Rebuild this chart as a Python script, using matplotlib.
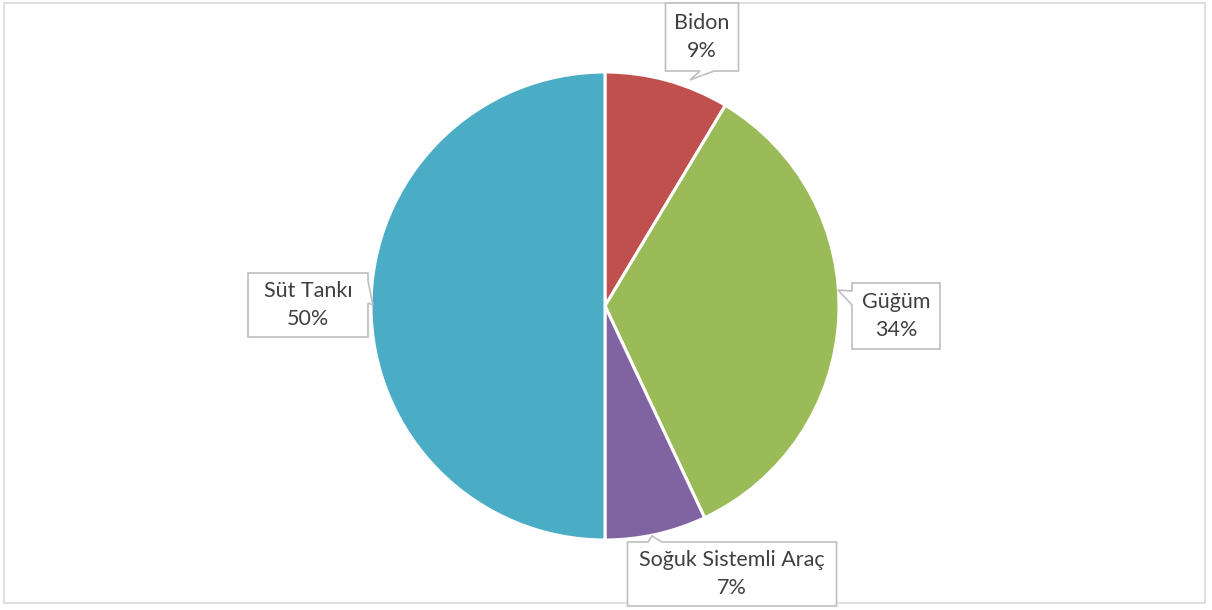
import matplotlib
matplotlib.use("Agg")
import matplotlib.pyplot as plt
from matplotlib.patches import Rectangle, Polygon

categories = ["Bidon", "Güğüm", "Soğuk Sistemli Araç", "Süt Tankı"]
shares = [8.6, 34.4, 7.0, 50.0]
colors = ["#C0504D", "#9BBB59", "#8064A2", "#4BACC6"]

# label box centres and pointer tips, in pixel units (y measured from top)
label_pos = [(702, 37), (896, 316), (732, 574), (308, 305)]
box_size = [(73, 68), (88, 66), (209, 64), (120, 64)]
tips = [(690, 80), (838, 290), (652, 536), (373, 305)]

W, H = 1212, 610
fig = plt.figure(figsize=(W / 100, H / 100), dpi=100)
ax = fig.add_axes([0, 0, 1, 1])

# outer chart frame
ax.add_patch(Rectangle((4, H - 603), 1201, 600, fill=False, edgecolor="#d9d9d9", lw=1.2))

ax.pie(shares, colors=colors, startangle=90, counterclock=False,
       center=(605, H - 306), radius=234,
       wedgeprops=dict(edgecolor="white", linewidth=2.2), frame=True)
ax.set_xlim(0, W)
ax.set_ylim(0, H)
ax.set_aspect("equal")
ax.axis("off")

for name, v, (cx, cy), (bw, bh), (tx, ty) in zip(categories, shares, label_pos, box_size, tips):
    cy_ = H - cy
    x0, x1 = cx - bw / 2, cx + bw / 2
    y0, y1 = cy_ - bh / 2, cy_ + bh / 2
    ty_ = H - ty
    # callout outline: box plus a small pointer on the side facing the tip
    if ty_ < y0:  # below
        bx = min(max(tx + 10, x0 + 12), x1 - 20)
        pts = [(x0, y1), (x1, y1), (x1, y0), (bx + 14, y0), (tx, ty_), (bx, y0), (x0, y0)]
    elif ty_ > y1:  # above
        bx = min(max(tx - 4, x0 + 12), x1 - 20)
        pts = [(x0, y0), (x1, y0), (x1, y1), (bx + 14, y1), (tx, ty_), (bx, y1), (x0, y1)]
    elif tx < x0:  # left
        by = y1 - 8
        pts = [(x0, y1), (x1, y1), (x1, y0), (x0, y0), (x0, by - 14), (tx, ty_), (x0, by)]
    else:  # right
        by = y1 - 8
        pts = [(x1, y1), (x0, y1), (x0, y0), (x1, y0), (x1, by - 22), (tx, ty_), (x1, by)]
    ax.add_patch(Polygon(pts, closed=True, facecolor="white", edgecolor="#bfbfbf", lw=1.2, zorder=5))
    ax.text(cx, cy_, f"{name}\n{v:.0f}%", ha="center", va="center", fontsize=15.5,
            family="Lato", color="#404040", linespacing=1.45, zorder=6)

fig.savefig("out.png", dpi=100, facecolor="white")
